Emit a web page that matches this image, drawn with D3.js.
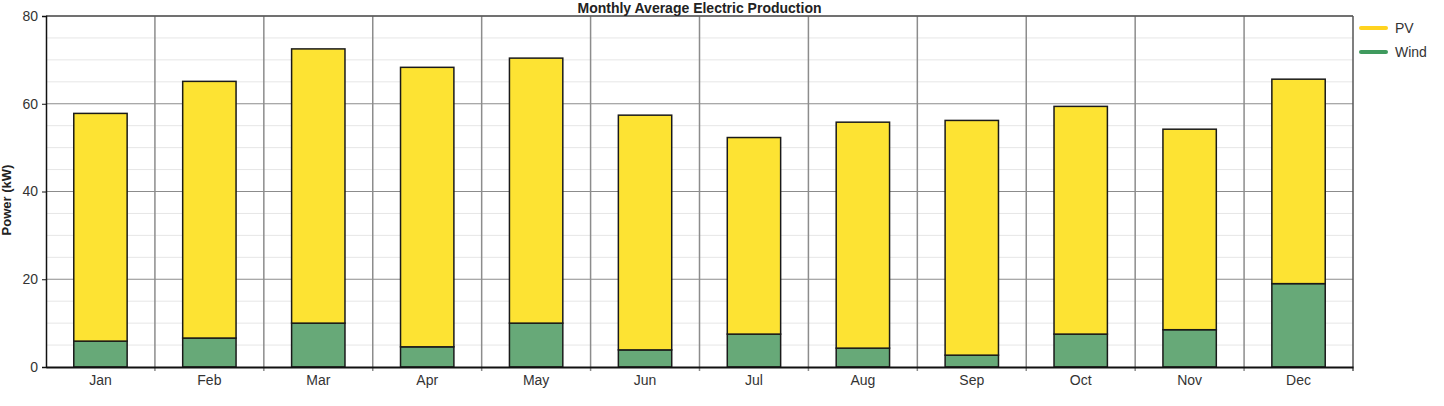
<!DOCTYPE html>
<html>
<head>
<script src="https://d3js.org/d3.v7.min.js"></script>
<style>
  body { margin: 0; background: white; }
  text { font-family: "Liberation Sans", Arial, sans-serif; }
  .tick text { fill: #333; font-size: 14px; }
</style>
</head>
<body>
<svg id="chart" width="1444" height="406"></svg>
<script>
// data
const months = ["Jan", "Feb", "Mar", "Apr", "May", "Jun", "Jul", "Aug", "Sep", "Oct", "Nov", "Dec"];
const wind = [5.9, 6.6, 10.0, 4.6, 10.0, 3.9, 7.5, 4.3, 2.7, 7.5, 8.5, 19.0];
const pv   = [51.9, 58.5, 62.5, 63.7, 60.4, 53.5, 44.8, 51.5, 53.5, 51.9, 45.7, 46.6];
const yTicks = [0, 20, 40, 60, 80];
const series = ["PV", "Wind"];
const colors = { Wind: "#67a978", PV: "#fde333" };
const legendColors = { PV: "#ffd31f", Wind: "#3f9a5e" };

const svg = d3.select("#chart");
const margin = { left: 46, top: 16, right: 91, bottom: 39 };
const width = 1444 - margin.left - margin.right;
const height = 406 - margin.top - margin.bottom;

const g = svg.append("g").attr("transform", `translate(${margin.left},${margin.top})`);

const x = d3.scaleBand().domain(months).range([0, width]).paddingInner(0.51).paddingOuter(0.255);
const xBand = d3.scaleBand().domain(months).range([0, width]);
const y = d3.scaleLinear().domain([0, 80]).range([height, 0]);

// minor grid every 5
g.selectAll("line.minor").data(d3.range(5, 80, 5).filter(v => v % 20 !== 0))
  .join("line").attr("class", "minor")
  .attr("x1", 0).attr("x2", width)
  .attr("y1", d => y(d)).attr("y2", d => y(d))
  .attr("stroke", "#e6e6e6").attr("stroke-width", 1);

// major grid
g.selectAll("line.major").data(yTicks.slice(1))
  .join("line").attr("class", "major")
  .attr("x1", 0).attr("x2", width)
  .attr("y1", d => y(d)).attr("y2", d => y(d))
  .attr("stroke", "#8c8c8c").attr("stroke-width", 1.2);

// vertical grid on band edges
g.selectAll("line.vgrid").data(months.slice(1))
  .join("line").attr("class", "vgrid")
  .attr("x1", d => xBand(d)).attr("x2", d => xBand(d))
  .attr("y1", 0).attr("y2", height + 4)
  .attr("stroke", "#8c8c8c").attr("stroke-width", 1.5);

// right and top border
g.append("line").attr("x1", width).attr("x2", width).attr("y1", 0).attr("y2", height + 4)
  .attr("stroke", "#555").attr("stroke-width", 1.5);
g.append("line").attr("x1", 0).attr("x2", width).attr("y1", 0).attr("y2", 0)
  .attr("stroke", "#555").attr("stroke-width", 1.5);

// stacked bars
const rows = months.map((m, i) => ({ month: m, Wind: wind[i], PV: pv[i] }));
const stacked = d3.stack().keys(["Wind", "PV"])(rows);

g.selectAll("g.layer").data(stacked)
  .join("g").attr("class", "layer")
  .attr("fill", d => colors[d.key])
  .selectAll("rect").data(d => d)
  .join("rect")
  .attr("x", d => x(d.data.month))
  .attr("width", x.bandwidth())
  .attr("y", d => y(d[1]))
  .attr("height", d => y(d[0]) - y(d[1]))
  .attr("stroke", "#1a1a1a").attr("stroke-width", 1.5);

// axes
const yAxis = g.append("g")
  .call(d3.axisLeft(y).tickValues(yTicks).tickSize(4).tickPadding(4));
yAxis.select(".domain").attr("stroke", "#111").attr("stroke-width", 1.5);
yAxis.selectAll(".tick line").attr("stroke", "#111");

const xAxis = g.append("g").attr("transform", `translate(0,${height})`)
  .call(d3.axisBottom(x).tickSize(0).tickPadding(8));
xAxis.select(".domain").attr("stroke", "#111").attr("stroke-width", 2);

// title
svg.append("text")
  .attr("x", margin.left + width / 2).attr("y", 13)
  .attr("text-anchor", "middle")
  .style("font-size", "14px").style("font-weight", "bold").attr("fill", "#222")
  .text("Monthly Average Electric Production");

// y label
svg.append("text")
  .attr("transform", `translate(11,200) rotate(-90)`)
  .attr("text-anchor", "middle")
  .style("font-size", "13px").style("font-weight", "bold").attr("fill", "#222")
  .text("Power (kW)");

// legend
const legend = svg.append("g").attr("transform", "translate(1361,28)");
legend.selectAll("g").data(series).join("g")
  .attr("transform", (d, i) => `translate(0,${i * 24})`)
  .each(function(d) {
    const item = d3.select(this);
    item.append("line").attr("x1", 0).attr("x2", 25).attr("y1", 0).attr("y2", 0)
      .attr("stroke", legendColors[d]).attr("stroke-width", 4).attr("stroke-linecap", "round");
    item.append("text").attr("x", 34).attr("y", 5)
      .style("font-size", "14px").attr("fill", "#333").text(d);
  });
</script>
</body>
</html>
